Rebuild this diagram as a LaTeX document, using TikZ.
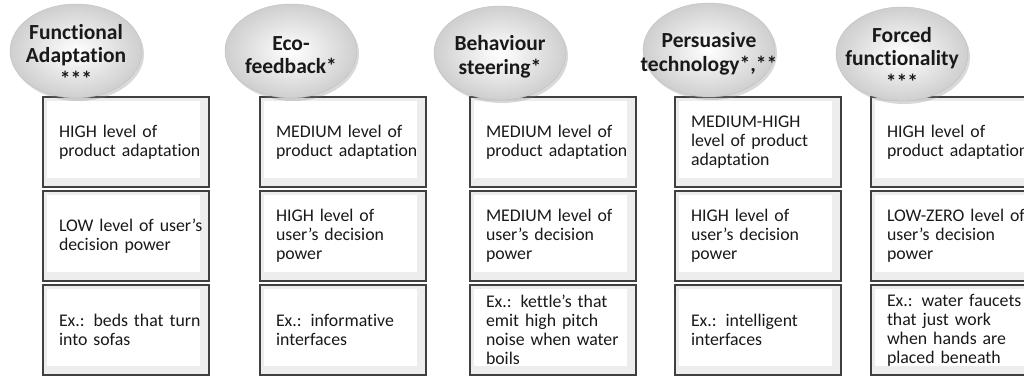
\documentclass[tikz,border=0pt]{standalone}
\usepackage{fontspec}
\setmainfont{Carlito}[Ligatures=NoCommon]
\usetikzlibrary{shapes.geometric,shadows}

\begin{document}
\begin{tikzpicture}[x=1pt, y=-1pt,
    oval/.style={ellipse, draw=gray!50, thin, minimum width=132pt, minimum height=94pt, inner sep=0pt,
        inner color=white, outer color=gray!38, drop shadow={shadow xshift=2pt, shadow yshift=-3pt, opacity=0.3}},
    ovaltext/.style={align=center, inner sep=0pt, yshift=-4pt, text=black!90, font=\fontsize{21.5}{23.5}\selectfont\bfseries},
    box/.style={rectangle, draw=black!75, line width=1.4pt, fill=gray!14, minimum width=166pt, minimum height=90pt,
        text width=152pt, inner xsep=7pt, align=left, text=black!90, font=\fontsize{17.8}{19}\selectfont,
        execute at begin node={\leftskip=9pt},
        path picture={\fill[white] ([shift={(4pt,-4pt)}]path picture bounding box.north west)
            rectangle ([shift={(-9pt,9pt)}]path picture bounding box.south east);}}
]
\useasboundingbox (0,0) rectangle (1024,378);
\clip (0,0) rectangle (1024,378);

% Column 1: Functional adaptation
\node[box] (func1) at (126,142) {HIGH level of\\product adaptation};
\node[box] (func2) at (126,236) {LOW level of user’s\\decision power};
\node[box] (func3) at (126,330) {Ex.: beds that turn\\into sofas};

% Column 2: Eco-feedback
\node[box] (eco1) at (343,142) {MEDIUM level of\\product adaptation};
\node[box] (eco2) at (343,236) {HIGH level of\\user’s decision\\power};
\node[box] (eco3) at (343,330) {Ex.: informative\\interfaces};

% Column 3: Behaviour steering
\node[box] (steer1) at (553,142) {MEDIUM level of\\product adaptation};
\node[box] (steer2) at (553,236) {MEDIUM level of\\user’s decision\\power};
\node[box] (steer3) at (553,330) {Ex.: kettle’s that\\emit high pitch\\noise when water\\boils};

% Column 4: Persuasive technology
\node[box] (pers1) at (758,142) {MEDIUM-HIGH\\level of product\\adaptation};
\node[box] (pers2) at (758,236) {HIGH level of\\user’s decision\\power};
\node[box] (pers3) at (758,330) {Ex.: intelligent\\interfaces};

% Column 5: Forced functionality
\node[box] (force1) at (954,142) {HIGH level of\\product adaptation};
\node[box] (force2) at (954,236) {LOW-ZERO level of\\user’s decision\\power};
\node[box] (force3) at (954,330) {Ex.: water faucets\\that just work\\when hands are\\placed beneath};

% Headers on top
\node[oval, label={[ovaltext, name=funcT]center:{Functional\\Adaptation\\***}}] (func) at (76,51) {};
\node[oval, label={[ovaltext, name=ecoT]center:{Eco-\\feedback*}}] (eco) at (291,51) {};
\node[oval, label={[ovaltext, name=steerT]center:{Behaviour\\steering*}}] (steer) at (500,53) {};
\node[oval, label={[ovaltext, name=persT]center:{Persuasive\\technology*,**}}] (pers) at (709,50) {};
\node[oval, label={[ovaltext, name=forceT]center:{Forced\\functionality\\***}}] (force) at (902,54) {};

\end{tikzpicture}
\end{document}
